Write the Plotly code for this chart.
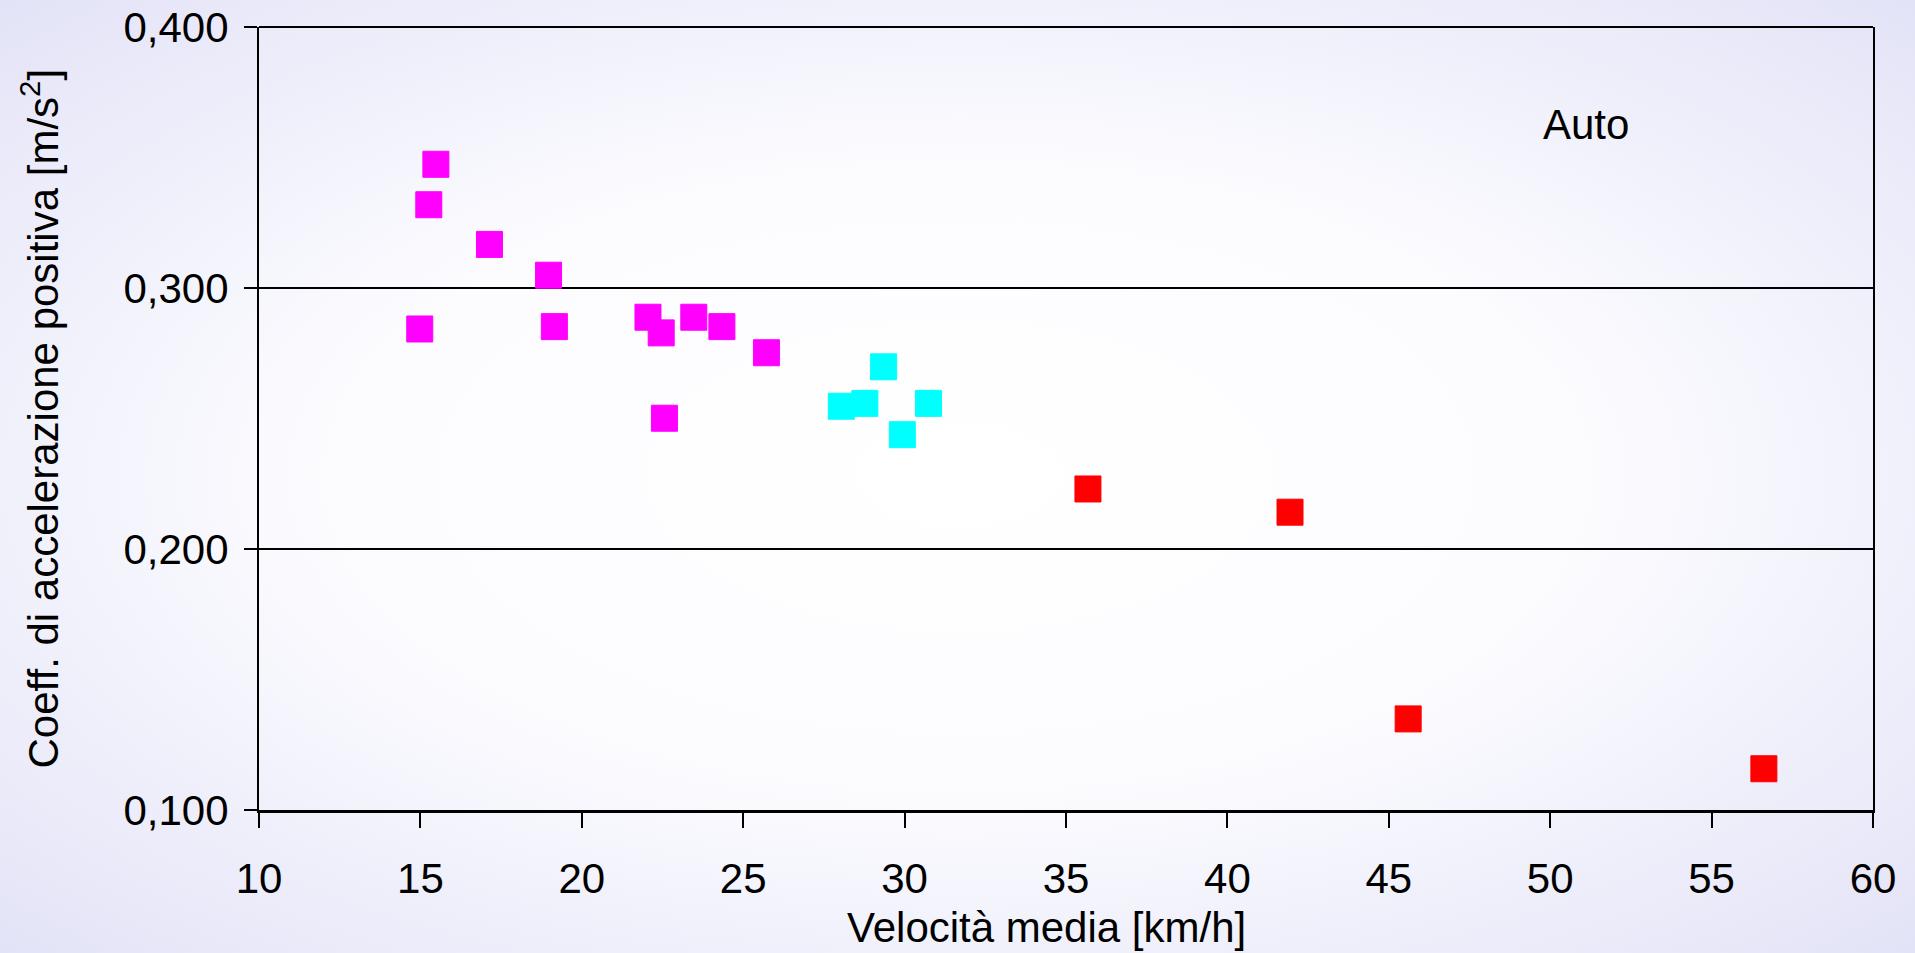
import plotly.graph_objects as go
import urllib.parse

# ---- data ----
magenta_x = [14.98, 15.26, 15.48, 17.14, 18.97, 19.15, 22.05, 22.46, 22.56, 23.47, 24.34, 25.72]
magenta_y = [0.2843, 0.3319, 0.3474, 0.3167, 0.3049, 0.2852, 0.2888, 0.2828, 0.2501, 0.2888, 0.2852, 0.2752]
cyan_x = [28.04, 28.77, 29.35, 29.93, 30.74]
cyan_y = [0.2547, 0.2558, 0.2698, 0.2438, 0.2558]
red_x = [35.68, 41.94, 45.60, 56.62]
red_y = [0.2230, 0.2141, 0.1349, 0.1158]

x_ticks = [10, 15, 20, 25, 30, 35, 40, 45, 50, 55, 60]
y_ticks = [0.1, 0.2, 0.3, 0.4]

x_title = "Velocità media [km/h]"
y_title = "Coeff. di accelerazione positiva [m/s<sup>2</sup>]"
label_text = "Auto"

# ---- layout geometry ----
W, H = 1915, 953
ML, MR, MT, MB = 259, 42, 27, 143
PW, PH = W - ML - MR, H - MT - MB
FONT = "Liberation Sans, Arial, sans-serif"
FS = 42

fig = go.Figure()
for xs, ys, col in [(magenta_x, magenta_y, "#FF00FF"),
                    (cyan_x, cyan_y, "#00FFFF"),
                    (red_x, red_y, "#FF0000")]:
    fig.add_trace(go.Scatter(
        x=xs, y=ys, mode="markers",
        marker=dict(symbol="square", size=26, color=col,
                    line=dict(width=1, color=col)),
        showlegend=False, hoverinfo="skip"))

svg = ("<svg xmlns='http://www.w3.org/2000/svg' width='1915' height='953' "
       "preserveAspectRatio='none' viewBox='0 0 1915 953'>"
       "<defs><radialGradient id='g' cx='50%' cy='50%' r='72%' gradientUnits='objectBoundingBox'>"
       "<stop offset='0' stop-color='#FFFFFF'/>"
       "<stop offset='0.45' stop-color='#FCFCFF'/>"
       "<stop offset='1' stop-color='#E2E2F7'/>"
       "</radialGradient></defs>"
       "<rect width='1915' height='953' fill='url(#g)'/></svg>")
src = "data:image/svg+xml;charset=utf-8," + urllib.parse.quote(svg)

fig.update_layout(
    width=W, height=H,
    margin=dict(l=ML, r=MR, t=MT, b=MB, pad=0),
    paper_bgcolor="#F4F4FC",
    plot_bgcolor="rgba(0,0,0,0)",
    separators=", ",
    font=dict(family=FONT, size=FS, color="black"),
    images=[dict(source=src, xref="paper", yref="paper",
                 x=-ML / PW, y=1 + MT / PH, sizex=W / PW, sizey=H / PH,
                 xanchor="left", yanchor="top", sizing="stretch", layer="below")],
    xaxis=dict(range=[10, 60], tickvals=x_ticks, ticktext=[str(v) for v in x_ticks],
               automargin=False,
               showgrid=False, zeroline=False, showline=True, linecolor="black",
               linewidth=3, mirror=False, ticks="outside", ticklen=15, tickwidth=2,
               tickcolor="black", ticklabelstandoff=15,
               tickfont=dict(family=FONT, size=FS, color="black")),
    yaxis=dict(range=[0.1, 0.4], tickvals=y_ticks, tickformat=".3f",
               automargin=False,
               showgrid=True, gridcolor="black", gridwidth=2, zeroline=False,
               showline=True, linecolor="black", linewidth=2, mirror=True,
               ticks="outside", ticklen=13, tickwidth=2, tickcolor="black",
               ticklabelstandoff=7,
               tickfont=dict(family=FONT, size=FS, color="black")),
    annotations=[
        dict(text=x_title, xref="paper", yref="paper",
             x=(1046 - ML) / PW, y=(H - MB - 927) / PH,
             xanchor="center", yanchor="middle", showarrow=False,
             font=dict(family=FONT, size=FS, color="black")),
        dict(text=y_title, xref="paper", yref="paper",
             x=(40 - ML) / PW, y=0.5, textangle=-90,
             xanchor="center", yanchor="middle", showarrow=False,
             font=dict(family=FONT, size=FS, color="black")),
        dict(text=label_text, xref="x", yref="y", x=51.1, y=0.3625,
             xanchor="center", yanchor="middle", showarrow=False,
             font=dict(family=FONT, size=FS, color="black")),
    ],
)
# top border line of the plot box
fig.add_shape(type="line", xref="paper", yref="paper", x0=0, x1=1, y0=1, y1=1,
              line=dict(color="black", width=2))

fig.write_html("out.html")
